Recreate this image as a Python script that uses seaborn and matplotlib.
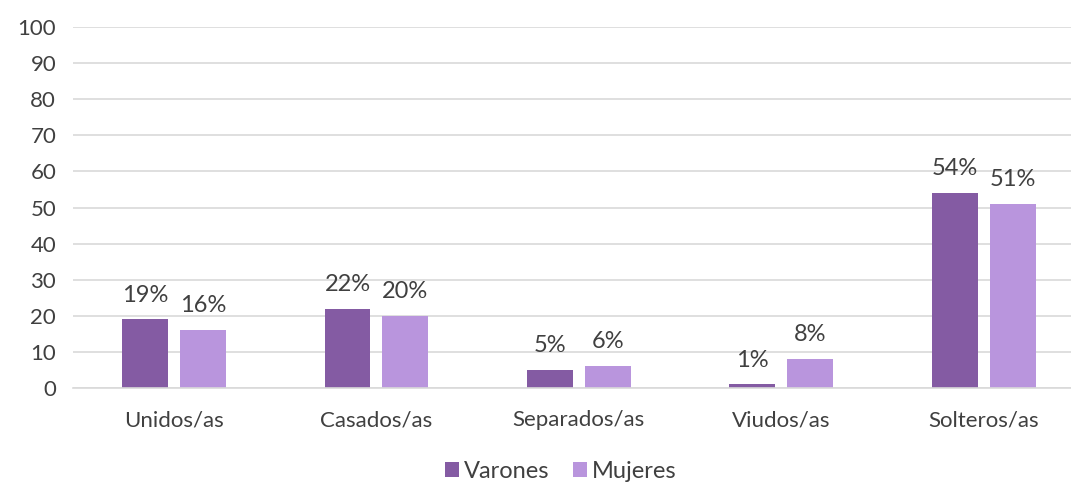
import matplotlib
matplotlib.use("Agg")
import matplotlib.pyplot as plt
import seaborn as sns
import pandas as pd

categorias = ["Unidos/as", "Casados/as", "Separados/as", "Viudos/as", "Solteros/as"]
varones = [19, 22, 5, 1, 54]
mujeres = [16, 20, 6, 8, 51]
grupos = ["Varones", "Mujeres"]

colores = {"Varones": "#845BA3", "Mujeres": "#B995DD"}
texto = "#404040"

df = pd.DataFrame({
    "categoria": categorias * 2,
    "valor": varones + mujeres,
    "grupo": [grupos[0]] * len(categorias) + [grupos[1]] * len(categorias),
})

sns.set_style("white")
plt.rcParams["font.family"] = ["Lato", "DejaVu Sans"]

fig = plt.figure(figsize=(10.71, 4.82), dpi=100)
ax = fig.add_axes([0.068, 0.195, 0.945, 0.749])

sns.barplot(data=df, x="categoria", y="valor", hue="grupo", palette=colores,
            saturation=1, width=0.572, gap=0.207, linewidth=0, ax=ax, legend=True)

for cont in ax.containers:
    ax.bar_label(cont, labels=["{:g}%".format(v) for v in cont.datavalues],
                 padding=10, fontsize=17, color=texto)

ax.set_ylim(0, 100)
ax.set_xlim(-0.5, 4.5)
ax.set_yticks(range(0, 101, 10))
ax.yaxis.grid(True, color="#d9d9d9", linewidth=1.2)
ax.set_axisbelow(True)
for s in ["top", "right", "left"]:
    ax.spines[s].set_visible(False)
ax.spines["bottom"].set_color("#d9d9d9")
ax.spines["bottom"].set_linewidth(1.2)
ax.tick_params(axis="both", length=0, labelsize=16, colors=texto)
ax.tick_params(axis="y", pad=12)
ax.tick_params(axis="x", pad=16)
ax.set_xlabel("")
ax.set_ylabel("")

h, l = ax.get_legend_handles_labels()
ax.legend(h, l, loc="lower center", bbox_to_anchor=(0.482, -0.318), ncol=2,
          frameon=False, fontsize=17, handlelength=0.6, handleheight=0.6,
          handletextpad=0.2, columnspacing=1.0, labelcolor=texto)

fig.savefig("out.png", dpi=100)
